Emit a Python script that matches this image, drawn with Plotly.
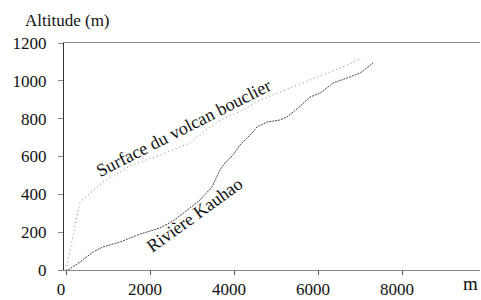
import plotly.graph_objects as go

# Surface du volcan bouclier (distance m, altitude m)
surface_x = [0, 143, 333, 881, 1524, 2238, 2952, 3310, 3667, 4214, 4619, 4976, 5333, 5810, 6286, 6690, 7048]
surface_y = [0, 159, 359, 465, 550, 608, 671, 735, 793, 846, 899, 930, 962, 1004, 1047, 1083, 1120]

# Rivière Kauhao
river_x = [48, 333, 643, 881, 1286, 1762, 2238, 2548, 2952, 3190, 3476, 3667, 3786, 3976, 4143, 4429, 4548,
           4786, 5095, 5262, 5524, 5810, 6048, 6357, 6690, 7000, 7310]
river_y = [0, 42, 95, 122, 148, 190, 222, 259, 328, 370, 439, 529, 566, 608, 661, 724, 756,
           782, 793, 809, 856, 914, 935, 988, 1015, 1041, 1094]

x_ticks = [0, 2000, 4000, 6000, 8000]
y_ticks = [0, 200, 400, 600, 800, 1000, 1200]

FONT = "Liberation Serif"

fig = go.Figure()
fig.add_trace(go.Scatter(x=surface_x, y=surface_y, mode="lines",
                         line=dict(color="#888888", width=1, dash="1px,3px"),
                         showlegend=False, hoverinfo="skip"))
fig.add_trace(go.Scatter(x=river_x, y=river_y, mode="lines",
                         line=dict(color="#444444", width=1, dash="2px,1px"),
                         showlegend=False, hoverinfo="skip"))

fig.update_layout(
    width=481, height=300,
    margin=dict(l=64, r=1, t=43, b=30),
    paper_bgcolor="white", plot_bgcolor="white",
    font=dict(family=FONT, size=17, color="#111111"),
    xaxis=dict(range=[-48, 9857], tickvals=x_ticks, ticktext=[str(v) for v in x_ticks],
               showgrid=False, zeroline=False, showline=True, linecolor="#888888", linewidth=1,
               mirror=True, ticks="outside", ticklen=4, tickcolor="#555555",
               ticklabelstandoff=0, ticklabelshift=-5,
               tickfont=dict(family=FONT, size=17, color="#111111")),
    yaxis=dict(range=[0, 1200], tickvals=y_ticks, ticktext=[str(v) for v in y_ticks],
               showgrid=False, zeroline=False, showline=True, linecolor="#333333", linewidth=1,
               ticks="outside", ticklen=5, tickcolor="#888888", ticklabelstandoff=8,
               tickfont=dict(family=FONT, size=17, color="#111111")),
)

fig.add_annotation(text="Surface du volcan bouclier", x=2800, y=750, xref="x", yref="y",
                   showarrow=False, textangle=-27,
                   font=dict(family=FONT, size=18, color="#111111"))
fig.add_annotation(text="Rivière Kauhao", x=3060, y=290, xref="x", yref="y",
                   showarrow=False, textangle=-36,
                   font=dict(family=FONT, size=18, color="#111111"))
fig.add_annotation(text="Altitude (m)", x=(23 - 64) / 416, y=(270 - 20) / 227,
                   xref="paper", yref="paper", xanchor="left", yanchor="middle",
                   showarrow=False, font=dict(family=FONT, size=17, color="#111111"))
fig.add_annotation(text="m", x=(470 - 64) / 416, y=(270 - 283) / 227,
                   xref="paper", yref="paper", xanchor="center", yanchor="middle",
                   showarrow=False, font=dict(family=FONT, size=19, color="#111111"))

fig.write_html("out.html", config={"displayModeBar": False},
               post_script="document.body.style.margin='0';")
